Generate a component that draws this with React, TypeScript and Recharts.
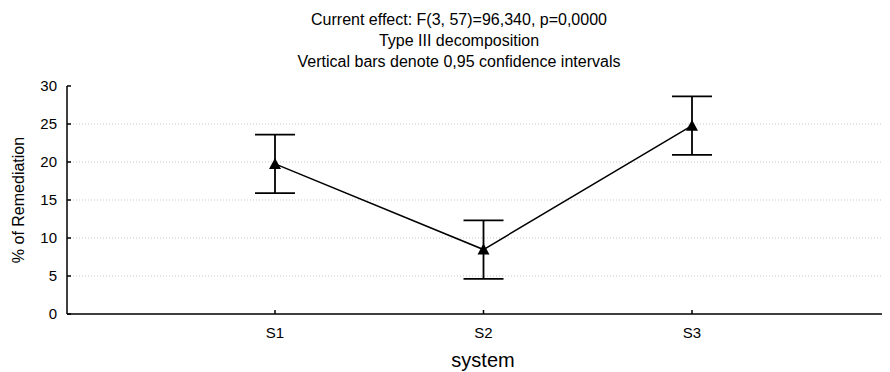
import { LineChart, Line, XAxis, YAxis, ErrorBar, ReferenceLine } from 'recharts';

const categories = ['S1', 'S2', 'S3'];
const means = [19.75, 8.48, 24.78];
const ci95 = [3.85, 3.85, 3.85];
const yTicks = [0, 5, 10, 15, 20, 25, 30];
const gridValues = [5, 10, 15, 20, 25];
const titleLines = [
  'Current effect: F(3, 57)=96,340, p=0,0000',
  'Type III decomposition',
  'Vertical bars denote 0,95 confidence intervals',
];

const data = categories.map((name, i) => ({ name, value: means[i], err: ci95[i] }));

const font = '"Liberation Sans", Arial, sans-serif';

function Triangle(props: any) {
  const { cx, cy } = props;
  if (cx == null || cy == null) return null;
  return <path d={`M${cx},${cy - 6} L${cx + 6},${cy + 5} L${cx - 6},${cy + 5} Z`} fill="#000" />;
}

export default function App() {
  return (
    <div style={{ position: 'relative', width: 882, height: 364, fontFamily: font }}>
      <div
        style={{
          position: 'absolute', top: 1, left: 451, width: 0,
          textAlign: 'center', fontSize: 16, lineHeight: '21px', color: '#000', whiteSpace: 'nowrap',
        }}
      >
        {titleLines.map((t) => (
          <div key={t} style={{ marginLeft: -300, marginRight: -300 }}>{t}</div>
        ))}
      </div>
      <LineChart width={882} height={364} data={data} margin={{ top: 78, right: 0, left: 0, bottom: 0 }}>
        {gridValues.map((v) => (
          <ReferenceLine key={v} y={v} stroke="#c8c8c8" strokeDasharray="1 2" />
        ))}
        <XAxis
          dataKey="name"
          scale="point"
          padding={{ left: 208, right: 198 }}
          height={58}
          stroke="#000"
          strokeWidth={1.5}
          tickSize={-4}
          tickMargin={17}
          tick={{ fill: '#000', fontSize: 15, fontFamily: font }}
          label={{
            content: ({ viewBox }: any) => (
              <text x={475} y={viewBox.y + viewBox.height - 5} textAnchor="middle" fontSize={20} fontFamily={font} fill="#000">
                system
              </text>
            ),
          }}
        />
        <YAxis
          domain={[0, 30]}
          ticks={yTicks}
          width={59}
          stroke="#000"
          strokeWidth={1.5}
          tickSize={-4}
          tickMargin={14}
          tick={{ fill: '#000', fontSize: 15, fontFamily: font }}
          label={{
            content: ({ viewBox }: any) => {
              const x = 10;
              const y = viewBox.y + viewBox.height / 2;
              return (
                <text x={x} y={y} transform={`rotate(-90, ${x}, ${y})`} textAnchor="middle" dominantBaseline="central" fontSize={16} fontFamily={font} fill="#000">
                  % of Remediation
                </text>
              );
            },
          }}
        />
        <Line
          type="linear"
          dataKey="value"
          stroke="#000"
          strokeWidth={1.5}
          dot={<Triangle />}
          activeDot={false}
          isAnimationActive={false}
        >
          <ErrorBar dataKey="err" width={20} stroke="#000" strokeWidth={1.8} isAnimationActive={false} />
        </Line>
      </LineChart>
    </div>
  );
}
